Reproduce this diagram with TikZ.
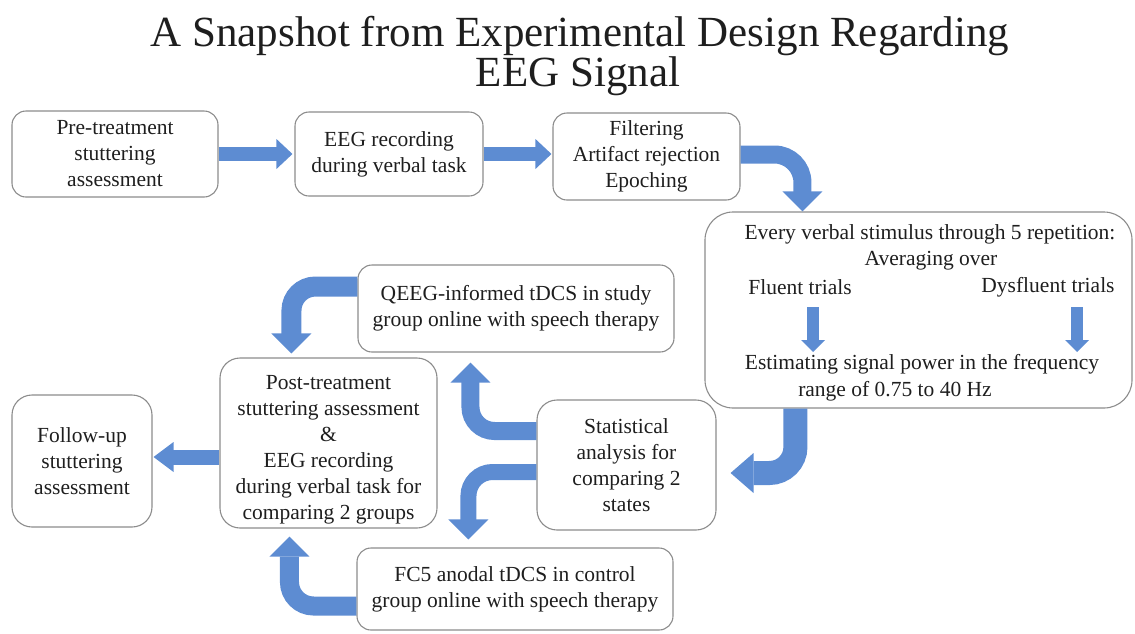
\documentclass[tikz,border=0pt]{standalone}
\usepackage{fontspec}
\setmainfont{Liberation Serif}
\usetikzlibrary{calc}
\definecolor{arrowblue}{RGB}{93,140,210}
\definecolor{boxline}{RGB}{140,140,140}
\definecolor{txt}{RGB}{30,30,30}
\newcommand\bodyfont{\fontsize{21.5}{26}\selectfont}
\newcommand\titlefont{\fontsize{43}{40}\selectfont}
\begin{document}
\begin{tikzpicture}[x=1pt,y=-1pt,
  box/.style={draw=boxline, line width=1.1pt, rounded corners=14pt, align=center, text=txt, font=\bodyfont, inner sep=0pt},
  plain/.style={text=txt, font=\bodyfont, inner sep=0pt, align=center},
  titletext/.style={text=txt, font=\titlefont, inner sep=0pt, anchor=base},
  shaft/.style={draw=arrowblue, line width=#1},
  head/.style={fill=arrowblue}]
\useasboundingbox (0,0) rectangle (1135,633);

% title
\node[titletext] (t1) at (580,46) {A Snapshot from Experimental Design Regarding};
\node[titletext] (t2) at (578,86) {EEG Signal};

% boxes
\node[box, minimum width=206pt, minimum height=86pt] (pre) at (115,154) {Pre-treatment\\stuttering\\assessment};
\node[box, minimum width=188pt, minimum height=84pt] (eeg) at (389,154) {EEG recording\\during verbal task};
\node[box, minimum width=187pt, minimum height=87pt] (filt) at (646.5,156.5) {Filtering\\Artifact rejection\\Epoching};
\node[box, rounded corners=28pt, minimum width=427pt, minimum height=196pt] (big) at (918.5,310) {};
\node[box, minimum width=316pt, minimum height=87pt] (qeeg) at (516,308.5) {QEEG-informed tDCS in study\\group online with speech therapy};
\node[box, rounded corners=20pt, minimum width=217pt, minimum height=170pt] (post) at (328.5,443) {};
\node[plain] (postt) at (328.5,450) {Post-treatment\\stuttering assessment\\\&\\EEG recording\\during verbal task for\\comparing 2 groups};
\node[box, rounded corners=20pt, minimum width=140pt, minimum height=132pt] (follow) at (82,461) {Follow-up\\stuttering\\assessment};
\node[box, rounded corners=20pt, minimum width=179pt, minimum height=130pt] (stat) at (626.5,465) {Statistical\\analysis for\\comparing 2\\states};
\node[box, minimum width=316pt, minimum height=82pt] (fc5) at (515,589) {FC5 anodal tDCS in control\\group online with speech therapy};

% texts in the big box
\node[plain] (b1) at (930,234) {Every verbal stimulus through 5 repetition:};
\node[plain] (b2) at (931,261) {Averaging over};
\node[plain] (fl) at (800,287) {Fluent trials};
\node[plain] (dy) at (1048,287) {Dysfluent trials};
\node[plain] (es) at (922,364) {Estimating signal power in the frequency};
\node[plain] (rg) at (895,391) {range of 0.75 to 40 Hz};

% small arrows in the big box
\coordinate (fa) at (813,307);
\coordinate (fb) at (813,352);
\coordinate (da) at (1077,307);
\coordinate (db) at (1077,352);
\draw[shaft=12pt] (fa) -- ($(fb)+(0,-11)$);
\fill[head] (fb) -- ++(-12,-12) -- ++(24,0) -- cycle;
\draw[shaft=12pt] (da) -- ($(db)+(0,-11)$);
\fill[head] (db) -- ++(-12,-12) -- ++(24,0) -- cycle;

% A1 pre -> eeg
\draw[shaft=14pt] (pre.east) -- ($(eeg.west)+(-17,0)$);
\fill[head] ($(eeg.west)+(-2,0)$) -- ++(-16,-15) -- ++(0,30) -- cycle;
% A2 eeg -> filt
\draw[shaft=14pt] (eeg.east) -- ($(filt.west)+(-15,-2.5)$);
\fill[head] ($(filt.west)+(-1,-2.5)$) -- ++(-16,-15) -- ++(0,30) -- cycle;
% A3 filt -> big
\draw[shaft=18pt, rounded corners=28pt] ($(filt.east)+(0,-2)$) -| ($(big.north west)+(98,-19)$);
\fill[head] ($(big.north west)+(98,0)$) -- ++(-20,-20) -- ++(40,0) -- cycle;
% A4 big -> stat
\draw[shaft=24pt, rounded corners=26pt] ($(big.south west)+(91,0)$) |- ($(stat.east)+(37,8)$);
\fill[head] ($(stat.east)+(14,8)$) -- ++(23,-20) -- ++(0,40) -- cycle;
% A5 stat -> qeeg
\draw[shaft=18pt, rounded corners=24pt] ($(stat.west)+(0,-34)$) -| ($(qeeg.south west)+(113,29)$);
\fill[head] ($(qeeg.south west)+(113,10)$) -- ++(-20,20) -- ++(40,0) -- cycle;
% A6 stat -> fc5
\draw[shaft=16pt, rounded corners=24pt] ($(stat.west)+(0,7)$) -| ($(fc5.north west)+(112,-27)$);
\fill[head] ($(fc5.north west)+(112,-8)$) -- ++(-20,-20) -- ++(40,0) -- cycle;
% A7 fc5 -> post
\draw[shaft=19pt, rounded corners=24pt] ($(fc5.west)+(0,17)$) -| ($(post.south west)+(70,28)$);
\fill[head] ($(post.south west)+(70,8)$) -- ++(-20,20) -- ++(40,0) -- cycle;
% A8 post -> follow
\draw[shaft=15pt] ($(post.west)+(0,14)$) -- ($(follow.east)+(20,-4)$);
\fill[head] ($(follow.east)+(1,-4)$) -- ++(20,-15) -- ++(0,30) -- cycle;
% A9 qeeg -> post
\draw[shaft=20pt, rounded corners=24pt] ($(qeeg.west)+(0,-22)$) -| ($(post.north west)+(72,-23)$);
\fill[head] ($(post.north west)+(72,-4)$) -- ++(-20,-20) -- ++(40,0) -- cycle;
\end{tikzpicture}
\end{document}
